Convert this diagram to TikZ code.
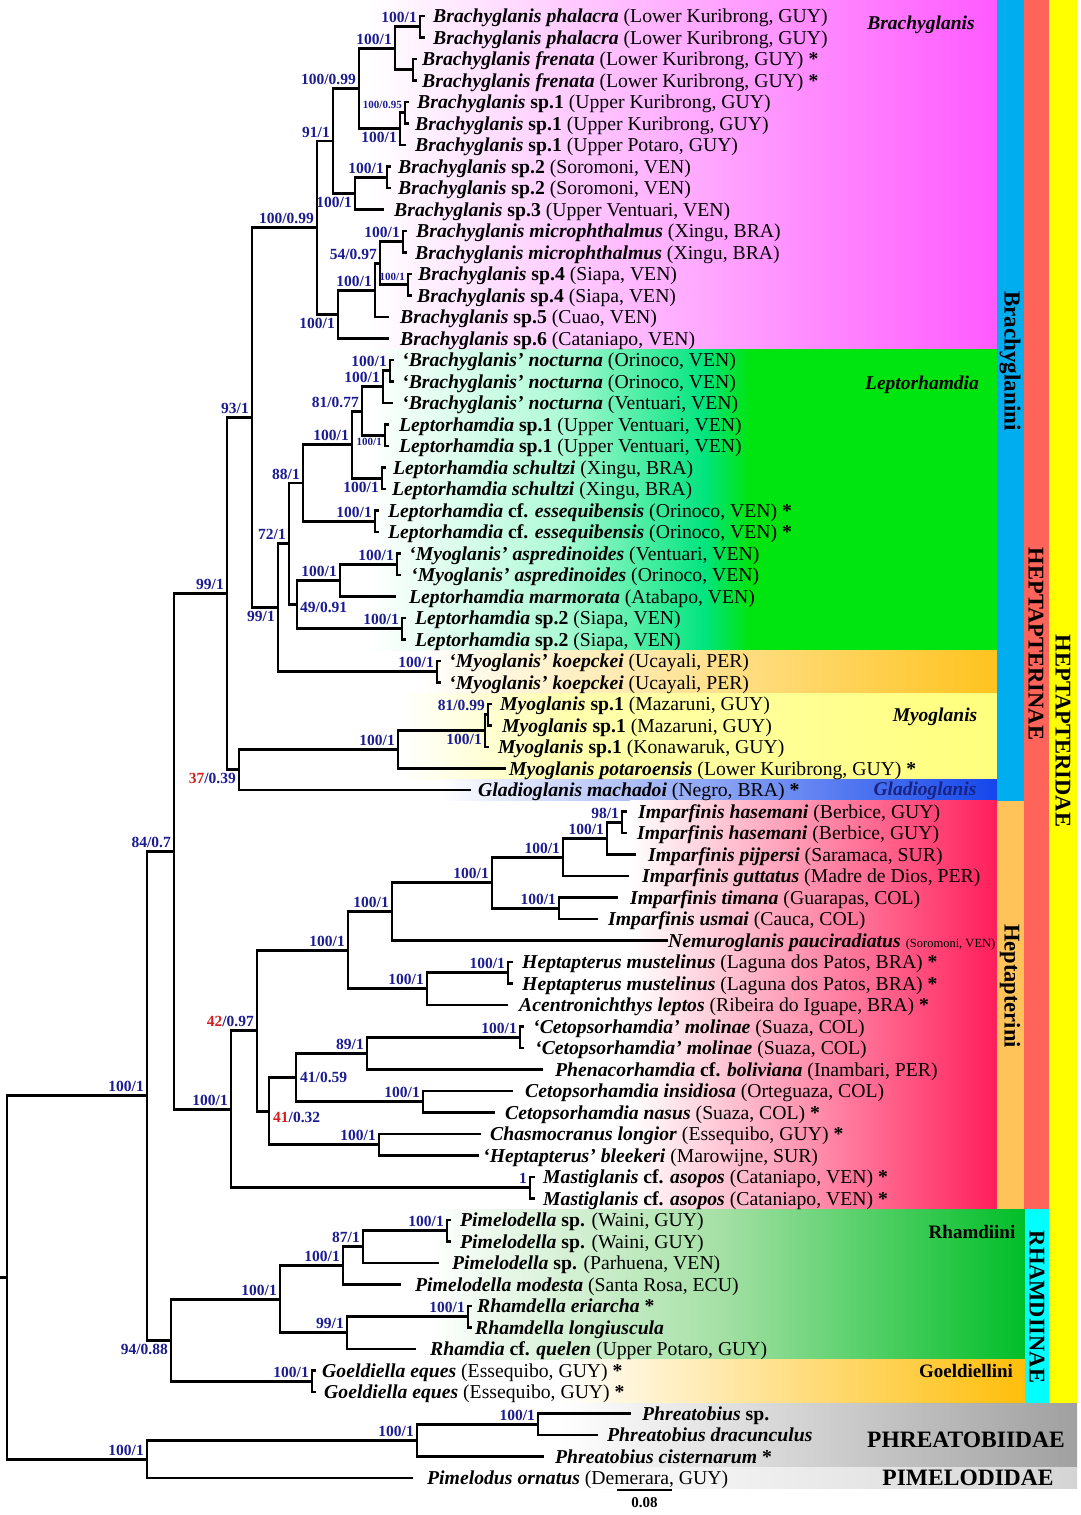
\documentclass[tikz,border=0pt]{standalone}
\usepackage{fontspec}
\setmainfont{Liberation Serif}
\definecolor{navy}{RGB}{28,28,145}
\definecolor{bsred}{RGB}{210,30,30}
\definecolor{brpink}{RGB}{255,90,255}
\definecolor{lgreenA}{RGB}{175,250,215}
\definecolor{lgreenB}{RGB}{0,228,125}
\definecolor{lgreenC}{RGB}{0,228,15}
\definecolor{korange}{RGB}{255,195,30}
\definecolor{myoA}{RGB}{255,255,175}
\definecolor{myoB}{RGB}{255,255,125}
\definecolor{glblue}{RGB}{20,70,235}
\definecolor{hepred}{RGB}{255,30,90}
\definecolor{rhA}{RGB}{165,224,165}
\definecolor{rhB}{RGB}{0,190,40}
\definecolor{goor}{RGB}{255,190,10}
\definecolor{phgray}{RGB}{160,160,160}
\definecolor{pmgray}{RGB}{212,212,212}
\definecolor{barblue}{RGB}{0,173,239}
\definecolor{barorange}{RGB}{255,195,90}
\definecolor{barred}{RGB}{255,100,90}
\definecolor{barcyan}{RGB}{0,255,255}
\definecolor{baryellow}{RGB}{255,255,0}
\definecolor{gladnavy}{RGB}{25,35,130}
\newcommand{\bi}[1]{\textbf{\textit{#1}}}
\newcommand{\astr}{\textbf{*}}
\newcommand{\tip}[4]{\coordinate (t#1) at (#2,{16+21.5*(#1-1)});
  \node[tiptext] (n#1) at (#3,{22.5+21.5*(#1-1)}) {#4};}
\newcommand{\kids}[2]{\foreach \c in {#2} {\draw[branch] (#1) |- (\c);}}
\newcommand{\ba}[3][]{\node[bs,anchor=base east,xshift=-3pt,yshift=4pt,#1] (L#2) at (#2) {#3};}
\newcommand{\bb}[3][]{\node[bs,anchor=base east,xshift=-3pt,yshift=-14pt,#1] (L#2) at (#2) {#3};}
\begin{document}
\begin{tikzpicture}[x=1pt,y=-1pt,
  branch/.style={line width=2.9pt,line cap=rect,line join=miter},
  tiptext/.style={anchor=base west,inner sep=0pt,font=\fontsize{19.7}{21}\selectfont},
  bs/.style={inner sep=0pt,text=navy,font=\fontsize{15.5}{16}\selectfont\bfseries},
  bsmall/.style={font=\fontsize{11}{12}\selectfont\bfseries},
  clade/.style={inner sep=0pt,font=\fontsize{19.5}{21}\selectfont\bfseries\itshape},
  tribe/.style={inner sep=0pt,font=\fontsize{19}{21}\selectfont\bfseries},
  vlab/.style={inner sep=0pt,rotate=-90,font=\fontsize{22.5}{24}\selectfont\bfseries},
  fam/.style={inner sep=0pt,font=\fontsize{23.5}{25}\selectfont\bfseries}]
\useasboundingbox (0,0) rectangle (1080,1515);
\fill[white] (0,0) rectangle (1080,1515);
% ---------- background bands ----------
\shade[left color=white,right color=brpink] (370,0) rectangle (997,349.25);
\shade[left color=white,right color=lgreenA] (370,349.25) rectangle (560.5,650.25);
\shade[left color=lgreenA,right color=lgreenB] (560,349.25) rectangle (705.5,650.25);
\shade[left color=lgreenB,right color=lgreenC] (705,349.25) rectangle (750.5,650.25);
\fill[lgreenC] (750,349.25) rectangle (997,650.25);
\shade[left color=white,right color=korange] (420,650.25) rectangle (997,693.25);
\shade[left color=white,right color=myoA] (400,693.25) rectangle (560.5,779.25);
\shade[left color=myoA,right color=myoB] (560,693.25) rectangle (997,779.25);
\shade[left color=white,right color=glblue] (440,779.25) rectangle (997,800.75);
\shade[left color=white,right color=hepred] (630,800.75) rectangle (997,1209.25);
\shade[left color=white,right color=rhA] (430,1209.25) rectangle (720.5,1359.75);
\shade[left color=rhA,right color=rhB] (720,1209.25) rectangle (1025,1359.75);
\shade[left color=white,right color=goor] (560,1359.75) rectangle (1025,1403);
\shade[left color=white,right color=phgray] (560,1403) rectangle (1077,1467.25);
\shade[left color=white,right color=pmgray] (560,1467.25) rectangle (1077,1488);
% ---------- side bars ----------
\fill[barblue] (997,0) rectangle (1023.5,800.75);
\fill[barorange] (997,800.75) rectangle (1023.5,1209.25);
\fill[barred] (1023.5,0) rectangle (1049,1209.25);
\fill[barcyan] (1025,1209.25) rectangle (1049,1403);
\fill[baryellow] (1049,0) rectangle (1077,1403);
% ---------- tips ----------
\tip{1}{424}{433}{\bi{Brachyglanis phalacra} (Lower Kuribrong, GUY)}
\tip{2}{424}{433}{\bi{Brachyglanis phalacra} (Lower Kuribrong, GUY)}
\tip{3}{416}{422}{\bi{Brachyglanis frenata} (Lower Kuribrong, GUY) \astr}
\tip{4}{416}{422}{\bi{Brachyglanis frenata} (Lower Kuribrong, GUY) \astr}
\tip{5}{408}{417}{\bi{Brachyglanis} \textbf{sp.1} (Upper Kuribrong, GUY)}
\tip{6}{408}{415}{\bi{Brachyglanis} \textbf{sp.1} (Upper Kuribrong, GUY)}
\tip{7}{405}{415}{\bi{Brachyglanis} \textbf{sp.1} (Upper Potaro, GUY)}
\tip{8}{390}{398}{\bi{Brachyglanis} \textbf{sp.2} (Soromoni, VEN)}
\tip{9}{390}{398}{\bi{Brachyglanis} \textbf{sp.2} (Soromoni, VEN)}
\tip{10}{383}{394}{\bi{Brachyglanis} \textbf{sp.3} (Upper Ventuari, VEN)}
\tip{11}{406}{416}{\bi{Brachyglanis microphthalmus} (Xingu, BRA)}
\tip{12}{406}{415}{\bi{Brachyglanis microphthalmus} (Xingu, BRA)}
\tip{13}{411}{418}{\bi{Brachyglanis} \textbf{sp.4} (Siapa, VEN)}
\tip{14}{411}{417}{\bi{Brachyglanis} \textbf{sp.4} (Siapa, VEN)}
\tip{15}{388}{400}{\bi{Brachyglanis} \textbf{sp.5} (Cuao, VEN)}
\tip{16}{388}{400}{\bi{Brachyglanis} \textbf{sp.6} (Cataniapo, VEN)}
\tip{17}{393}{402}{\bi{‘Brachyglanis’ nocturna} (Orinoco, VEN)}
\tip{18}{393}{402}{\bi{‘Brachyglanis’ nocturna} (Orinoco, VEN)}
\tip{19}{392}{402}{\bi{‘Brachyglanis’ nocturna} (Ventuari, VEN)}
\tip{20}{388}{399}{\bi{Leptorhamdia} \textbf{sp.1} (Upper Ventuari, VEN)}
\tip{21}{388}{399}{\bi{Leptorhamdia} \textbf{sp.1} (Upper Ventuari, VEN)}
\tip{22}{385}{393}{\bi{Leptorhamdia schultzi} (Xingu, BRA)}
\tip{23}{385}{392}{\bi{Leptorhamdia schultzi} (Xingu, BRA)}
\tip{24}{378}{388}{\bi{Leptorhamdia} \textbf{cf.} \bi{essequibensis} (Orinoco, VEN) \astr}
\tip{25}{378}{388}{\bi{Leptorhamdia} \textbf{cf.} \bi{essequibensis} (Orinoco, VEN) \astr}
\tip{26}{400}{409}{\bi{‘Myoglanis’ aspredinoides} (Ventuari, VEN)}
\tip{27}{400}{411}{\bi{‘Myoglanis’ aspredinoides} (Orinoco, VEN)}
\tip{28}{395}{409}{\bi{Leptorhamdia marmorata} (Atabapo, VEN)}
\tip{29}{405}{415}{\bi{Leptorhamdia} \textbf{sp.2} (Siapa, VEN)}
\tip{30}{405}{415}{\bi{Leptorhamdia} \textbf{sp.2} (Siapa, VEN)}
\tip{31}{440}{449}{\bi{‘Myoglanis’ koepckei} (Ucayali, PER)}
\tip{32}{440}{449}{\bi{‘Myoglanis’ koepckei} (Ucayali, PER)}
\tip{33}{491}{500}{\bi{Myoglanis} \textbf{sp.1} (Mazaruni, GUY)}
\tip{34}{491}{502}{\bi{Myoglanis} \textbf{sp.1} (Mazaruni, GUY)}
\tip{35}{488}{498}{\bi{Myoglanis} \textbf{sp.1} (Konawaruk, GUY)}
\tip{36}{505}{509}{\bi{Myoglanis potaroensis} (Lower Kuribrong, GUY) \astr}
\tip{37}{470}{478}{\bi{Gladioglanis machadoi} (Negro, BRA) \astr}
\tip{38}{626}{638}{\bi{Imparfinis hasemani} (Berbice, GUY)}
\tip{39}{626}{637}{\bi{Imparfinis hasemani} (Berbice, GUY)}
\tip{40}{635}{648}{\bi{Imparfinis pijpersi} (Saramaca, SUR)}
\tip{41}{628}{642}{\bi{Imparfinis guttatus} (Madre de Dios, PER)}
\tip{42}{617}{630}{\bi{Imparfinis timana} (Guarapas, COL)}
\tip{43}{597}{608}{\bi{Imparfinis usmai} (Cauca, COL)}
\tip{44}{667}{668}{\bi{Nemuroglanis pauciradiatus} {\fontsize{12.5}{13}\selectfont(Soromoni, VEN)}}
\tip{45}{512}{522}{\bi{Heptapterus mustelinus} (Laguna dos Patos, BRA) \astr}
\tip{46}{512}{522}{\bi{Heptapterus mustelinus} (Laguna dos Patos, BRA) \astr}
\tip{47}{507}{519}{\bi{Acentronichthys leptos} (Ribeira do Iguape, BRA) \astr}
\tip{48}{523}{533}{\bi{‘Cetopsorhamdia’ molinae} (Suaza, COL)}
\tip{49}{523}{535}{\bi{‘Cetopsorhamdia’ molinae} (Suaza, COL)}
\tip{50}{542}{555}{\bi{Phenacorhamdia} \textbf{cf.} \bi{boliviana} (Inambari, PER)}
\tip{51}{512}{525}{\bi{Cetopsorhamdia insidiosa} (Orteguaza, COL)}
\tip{52}{494}{505}{\bi{Cetopsorhamdia nasus} (Suaza, COL) \astr}
\tip{53}{480}{490}{\bi{Chasmocranus longior} (Essequibo, GUY) \astr}
\tip{54}{478}{483}{\bi{‘Heptapterus’ bleekeri} (Marowijne, SUR)}
\tip{55}{534}{543}{\bi{Mastiglanis} \textbf{cf.} \bi{asopos} (Cataniapo, VEN) \astr}
\tip{56}{534}{543}{\bi{Mastiglanis} \textbf{cf.} \bi{asopos} (Cataniapo, VEN) \astr}
\tip{57}{450}{460}{\bi{Pimelodella} \textbf{sp.} (Waini, GUY)}
\tip{58}{450}{460}{\bi{Pimelodella} \textbf{sp.} (Waini, GUY)}
\tip{59}{438}{452}{\bi{Pimelodella} \textbf{sp.} (Parhuena, VEN)}
\tip{60}{400}{415}{\bi{Pimelodella modesta} (Santa Rosa, ECU)}
\tip{61}{471}{477}{\bi{Rhamdella eriarcha} \astr}
\tip{62}{471}{475}{\bi{Rhamdella longiuscula}}
\tip{63}{415}{430}{\bi{Rhamdia} \textbf{cf.} \bi{quelen} (Upper Potaro, GUY)}
\tip{64}{315}{322}{\bi{Goeldiella eques} (Essequibo, GUY) \astr}
\tip{65}{315}{324}{\bi{Goeldiella eques} (Essequibo, GUY) \astr}
\tip{66}{630}{642}{\bi{Phreatobius} \textbf{sp.}}
\tip{67}{597}{607}{\bi{Phreatobius dracunculus}}
\tip{68}{543}{555}{\bi{Phreatobius cisternarum} \astr}
\tip{69}{412}{427}{\bi{Pimelodus ornatus} (Demerara, GUY)}
% ---------- internal nodes ----------
\coordinate (a1) at (420,26.75);
\coordinate (a2) at (413,69.75);
\coordinate (a3) at (395,48.25);
\coordinate (a4) at (405,112.75);
\coordinate (a5) at (400,128.9);
\coordinate (a6) at (359,88.6);
\coordinate (a7) at (387,177.25);
\coordinate (a8) at (355,193.4);
\coordinate (a9) at (333,141);
\coordinate (a10) at (403,241.75);
\coordinate (a11) at (408,284.75);
\coordinate (a12) at (380,263.25);
\coordinate (a13) at (375,290.1);
\coordinate (a14) at (338,314.3);
\coordinate (a15) at (317,227.65);
\coordinate (b1) at (390,370.75);
\coordinate (b2) at (383,386.9);
\coordinate (b3) at (385,435.25);
\coordinate (b4) at (362,411.1);
\coordinate (b5) at (382,478.25);
\coordinate (b6) at (352,444.7);
\coordinate (b7) at (375,521.25);
\coordinate (b8) at (303,483);
\coordinate (b9) at (397,564.25);
\coordinate (b10) at (340,580.4);
\coordinate (b11) at (402,628.75);
\coordinate (b12) at (297,604.6);
\coordinate (b13) at (289,543.8);
\coordinate (b14) at (437,671.75);
\coordinate (b15) at (278,607.8);
\coordinate (c0) at (252,417.7);
\coordinate (c1) at (488,714.75);
\coordinate (c2) at (485,730.9);
\coordinate (c3) at (398,749.7);
\coordinate (c4) at (239,769.85);
\coordinate (c5) at (227,593.8);
\coordinate (d1) at (622,822.25);
\coordinate (d2) at (607,838.4);
\coordinate (d3) at (563,857.2);
\coordinate (d4) at (559,908.25);
\coordinate (d5) at (492,882.7);
\coordinate (d6) at (392,911.6);
\coordinate (d7) at (508,972.75);
\coordinate (d8) at (427,988.9);
\coordinate (d9) at (348,950.25);
\coordinate (e1) at (520,1037.25);
\coordinate (e2) at (367,1053.4);
\coordinate (e3) at (423,1101.75);
\coordinate (e4) at (296,1077.6);
\coordinate (e5) at (379,1144.75);
\coordinate (e6) at (269,1111.2);
\coordinate (e7) at (257,1030.7);
\coordinate (e8) at (530,1187.75);
\coordinate (e9) at (231,1109.2);
\coordinate (f0) at (174,851.5);
\coordinate (g1) at (447,1230.75);
\coordinate (g2) at (363,1246.9);
\coordinate (g3) at (343,1265.7);
\coordinate (g4) at (468,1316.75);
\coordinate (g5) at (347,1332.9);
\coordinate (g6) at (280,1299.3);
\coordinate (g7) at (312,1381.25);
\coordinate (g8) at (171,1340.3);
\coordinate (h0) at (147,1095.9);
\coordinate (p1) at (538,1424.25);
\coordinate (p2) at (417,1440.4);
\coordinate (p3) at (147,1459.2);
\coordinate (root) at (7,1277.55);
\coordinate (rootstem) at (0,1277.55);
% ---------- branches ----------
\kids{a1}{t1,t2}
\kids{a2}{t3,t4}
\kids{a3}{a1,a2}
\kids{a4}{t5,t6}
\kids{a5}{a4,t7}
\kids{a6}{a3,a5}
\kids{a7}{t8,t9}
\kids{a8}{a7,t10}
\kids{a9}{a6,a8}
\kids{a10}{t11,t12}
\kids{a11}{t13,t14}
\kids{a12}{a10,a11}
\kids{a13}{a12,t15}
\kids{a14}{a13,t16}
\kids{a15}{a9,a14}
\kids{b1}{t17,t18}
\kids{b2}{b1,t19}
\kids{b3}{t20,t21}
\kids{b4}{b2,b3}
\kids{b5}{t22,t23}
\kids{b6}{b4,b5}
\kids{b7}{t24,t25}
\kids{b8}{b6,b7}
\kids{b9}{t26,t27}
\kids{b10}{b9,t28}
\kids{b11}{t29,t30}
\kids{b12}{b10,b11}
\kids{b13}{b8,b12}
\kids{b14}{t31,t32}
\kids{b15}{b13,b14}
\kids{c0}{a15,b15}
\kids{c1}{t33,t34}
\kids{c2}{c1,t35}
\kids{c3}{c2,t36}
\kids{c4}{c3,t37}
\kids{c5}{c0,c4}
\kids{d1}{t38,t39}
\kids{d2}{d1,t40}
\kids{d3}{d2,t41}
\kids{d4}{t42,t43}
\kids{d5}{d3,d4}
\kids{d6}{d5,t44}
\kids{d7}{t45,t46}
\kids{d8}{d7,t47}
\kids{d9}{d6,d8}
\kids{e1}{t48,t49}
\kids{e2}{e1,t50}
\kids{e3}{t51,t52}
\kids{e4}{e2,e3}
\kids{e5}{t53,t54}
\kids{e6}{e4,e5}
\kids{e7}{d9,e6}
\kids{e8}{t55,t56}
\kids{e9}{e7,e8}
\kids{f0}{c5,e9}
\kids{g1}{t57,t58}
\kids{g2}{g1,t59}
\kids{g3}{g2,t60}
\kids{g4}{t61,t62}
\kids{g5}{g4,t63}
\kids{g6}{g3,g5}
\kids{g7}{t64,t65}
\kids{g8}{g6,g7}
\kids{h0}{f0,g8}
\kids{p1}{t66,t67}
\kids{p2}{p1,t68}
\kids{p3}{p2,t69}
\kids{root}{h0,p3}
\draw[branch] (rootstem) -- (root);
% ---------- support values ----------
\ba{a1}{100/1}
\ba{a3}{100/1}
\ba{a6}{100/0.99}
\ba[bsmall]{a4}{100/0.95}
\bb{a5}{100/1}
\ba{a9}{91/1}
\ba{a7}{100/1}
\bb{a8}{100/1}
\ba{a10}{100/1}
\ba{a12}{54/0.97}
\ba[bsmall]{a11}{100/1}
\ba{a13}{100/1}
\bb{a14}{100/1}
\ba{a15}{100/0.99}
\ba{c0}{93/1}
\ba{b1}{100/1}
\ba{b2}{100/1}
\ba{b4}{81/0.77}
\ba[bsmall,yshift=-14pt]{b3}{100/1}
\ba{b6}{100/1}
\bb{b5}{100/1}
\ba{b8}{88/1}
\ba{b7}{100/1}
\ba{b13}{72/1}
\ba{b9}{100/1}
\ba{b10}{100/1}
\node[bs,anchor=west] (Lb12) at ([xshift=3pt,yshift=-2.5pt]b12) {49/0.91};
\ba{b11}{100/1}
\bb{b15}{99/1}
\ba{b14}{100/1}
\ba{c5}{99/1}
\ba{c1}{81/0.99}
\bb{c2}{100/1}
\ba{c3}{100/1}
\bb{c4}{\textcolor{bsred}{37}/0.39}
\ba{f0}{84/0.7}
\ba{h0}{100/1}
\ba{d1}{98/1}
\ba{d2}{100/1}
\ba{d3}{100/1}
\ba{d5}{100/1}
\ba{d4}{100/1}
\ba{d6}{100/1}
\ba{d9}{100/1}
\ba{d7}{100/1}
\ba{d8}{100/1}
\ba{e7}{\textcolor{bsred}{42}/0.97}
\ba{e1}{100/1}
\ba{e2}{89/1}
\node[bs,anchor=west] (Le4) at ([xshift=4pt]e4) {41/0.59};
\ba{e3}{100/1}
\node[bs,anchor=west] (Le6) at ([xshift=4pt,yshift=-6pt]e6) {\textcolor{bsred}{41}/0.32};
\ba{e5}{100/1}
\ba{e9}{100/1}
\ba{e8}{1}
\ba{g1}{100/1}
\ba{g2}{87/1}
\ba{g3}{100/1}
\ba{g5}{99/1}
\ba{g4}{100/1}
\ba{g6}{100/1}
\bb{g8}{94/0.88}
\ba{g7}{100/1}
\ba{p3}{100/1}
\ba{p2}{100/1}
\ba{p1}{100/1}
% ---------- clade labels ----------
\node[clade] (cBra) at (921,25) {Brachyglanis};
\node[clade] (cLep) at (922,385) {Leptorhamdia};
\node[clade] (cMyo) at (935,717) {Myoglanis};
\node[clade,text=gladnavy] (cGla) at (925,791) {Gladioglanis};
\node[tribe] (cRha) at (972,1232) {Rhamdiini};
\node[tribe] (cGoe) at (966,1371) {Goeldiellini};
\node[fam] (cPhr) at (966,1440) {PHREATOBIIDAE};
\node[fam] (cPim) at (968,1478) {PIMELODIDAE};
\node[vlab,font=\fontsize{23}{24}\selectfont\bfseries] (vBra) at (1010,361) {Brachyglanini};
\node[vlab] (vHep) at (1010,986) {Heptapterini};
\node[vlab] (vHea) at (1036,644) {HEPTAPTERINAE};
\node[vlab] (vRha) at (1037,1307) {RHAMDIINAE};
\node[vlab] (vHed) at (1063,731) {HEPTAPTERIDAE};
% ---------- scale bar ----------
\coordinate (sb1) at (617,1490);
\coordinate (sb2) at (672,1490);
\draw[line width=1.6pt] (sb1) -- (sb2);
\node[inner sep=0pt,font=\fontsize{15}{16}\selectfont\bfseries] (sbl) at (644.5,1503) {0.08};
\end{tikzpicture}
\end{document}
